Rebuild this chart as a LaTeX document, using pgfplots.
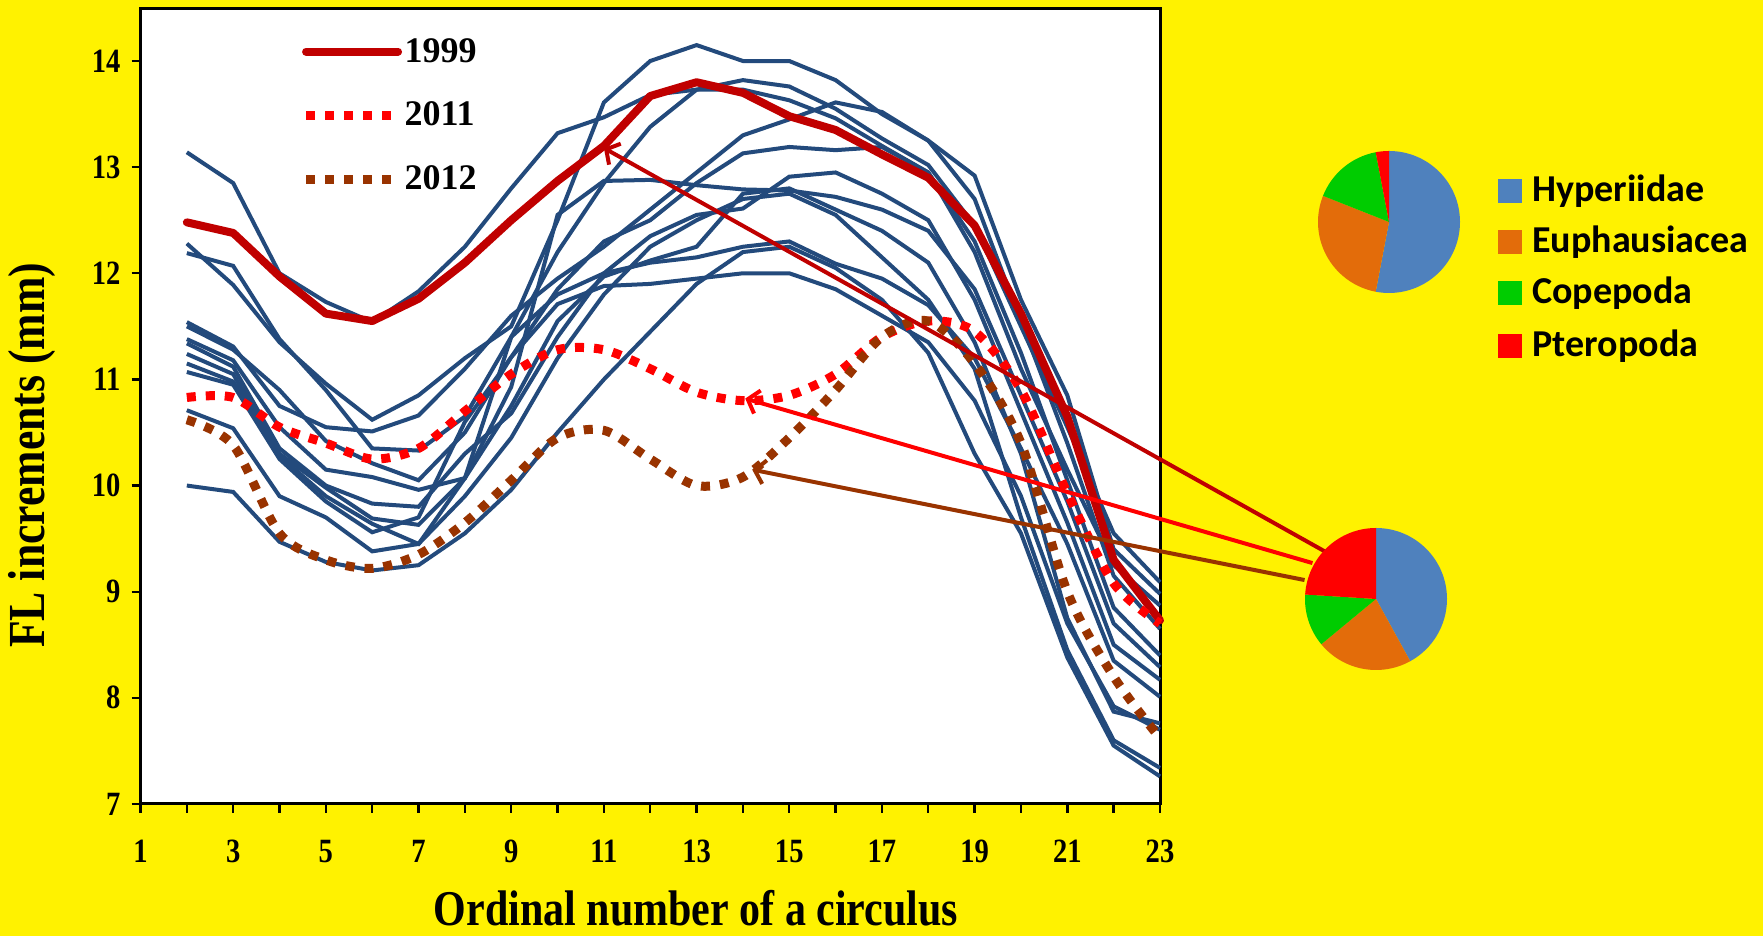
\documentclass[border=0pt]{standalone}
\usepackage{pgfplots}
\pgfplotsset{compat=1.18}
\usepackage{pgfplotstable}
\usepackage{fontspec}
\setmainfont{Liberation Serif}
\newfontfamily\condser{Liberation Serif}[FakeStretch=0.84]
\newfontfamily\calib{Carlito}
\usetikzlibrary{arrows.meta}
\definecolor{lineblue}{RGB}{35,74,124}
\definecolor{darkred}{RGB}{192,0,0}
\definecolor{brownish}{RGB}{153,51,0}
\definecolor{pieblue}{RGB}{79,129,189}
\definecolor{pieorange}{RGB}{227,108,10}
\definecolor{piegreen}{RGB}{0,204,0}
\definecolor{piered}{RGB}{255,0,0}

\pgfplotstableread{
x  b1    b2    b3    b4    b5    b6    b7    b8    b9    b10   b11   b12   r99   r11   r12
2  13.14 12.28 12.19 11.54 11.50 11.38 11.34 11.24 11.15 11.07 10.71 10.00 12.48 10.83 10.62
3  12.85 11.89 12.07 11.31 11.28 11.18 11.12 11.05 10.98 10.95 10.54 9.94  12.38 10.83 10.38
4  12.00 11.35 11.38 10.75 10.90 10.55 10.35 10.30 10.28 10.25 9.90  9.47  11.97 10.55 9.55
5  11.73 10.96 10.90 10.55 10.42 10.15 10.00 9.98  9.90  9.85  9.70  9.28  11.62 10.40 9.30
6  11.54 10.62 10.35 10.51 10.21 10.08 9.83  9.69  9.64  9.56  9.38  9.20  11.55 10.25 9.22
7  11.83 10.85 10.33 10.66 10.05 9.96  9.80  9.63  9.45  9.70  9.45  9.25  11.76 10.35 9.35
8  12.25 11.20 10.65 11.10 10.50 10.07 10.30 10.07 10.07 10.60 9.90  9.55  12.10 10.70 9.65
9  12.80 11.50 11.40 11.60 11.21 10.93 10.68 11.40 10.75 11.21 10.45 9.96  12.50 11.05 10.05
10 13.32 12.50 12.20 11.95 11.85 12.55 11.40 11.80 11.55 11.71 11.20 10.50 12.87 11.28 10.45
11 13.47 13.61 12.85 12.25 12.30 12.87 12.00 12.00 11.97 11.88 11.80 11.00 13.20 11.28 10.52
12 13.68 14.00 13.38 12.60 12.50 12.88 12.35 12.10 12.12 11.90 12.25 11.45 13.67 11.10 10.25
13 13.73 14.15 13.73 12.95 12.85 12.83 12.55 12.15 12.25 11.95 12.50 11.90 13.80 10.88 10.00
14 13.82 14.00 13.73 13.30 13.13 12.79 12.61 12.25 12.75 12.00 12.70 12.20 13.70 10.80 10.08
15 13.76 14.00 13.63 13.45 13.19 12.78 12.91 12.30 12.80 12.00 12.75 12.25 13.48 10.85 10.45
16 13.55 13.82 13.46 13.61 13.16 12.72 12.95 12.09 12.60 11.85 12.55 12.05 13.35 11.05 10.90
17 13.27 13.50 13.20 13.52 13.19 12.60 12.75 11.95 12.40 11.60 12.15 11.75 13.12 11.40 11.40
18 13.02 13.25 12.95 13.25 12.95 12.40 12.50 11.70 12.10 11.35 11.75 11.25 12.90 11.55 11.55
19 12.45 12.92 12.20 12.70 12.30 11.85 11.75 11.20 11.35 10.80 11.10 10.30 12.45 11.45 11.15
20 11.50 11.75 11.10 11.55 11.25 10.85 10.70 10.35 10.30 9.90  9.70  9.55  11.62 10.90 10.40
21 10.55 10.85 10.15 10.40 10.05 9.85  9.65  9.45  8.75  8.70  8.45  8.38  10.65 9.93  9.00
22 9.55  9.40  9.25  9.15  8.85  8.70  8.50  8.35  7.87  7.92  7.60  7.55  9.30  9.08  8.20
23 9.09  8.98  8.87  8.65  8.40  8.29  8.17  8.01  7.76  7.70  7.34  7.26  8.73  8.70  7.62
}\data

\begin{document}
\begin{tikzpicture}
\useasboundingbox (0,0) rectangle (881.5pt,468pt);
\fill[yellow] (0,0) rectangle (881.5pt,468pt);
\begin{axis}[
  at={(70.25pt,66pt)}, anchor=south west,
  scale only axis, width=509.75pt, height=397.5pt,
  xmin=1, xmax=23, ymin=7, ymax=14.49,
  clip=false,
  axis background/.style={fill=white},
  axis line style={line width=1.5pt, black},
  tick pos=left, tick align=outside,
  major tick length=4.5pt,
  every tick/.style={line width=1.2pt, black},
  xtick={1,...,23},
  xticklabels={1,,3,,5,,7,,9,,11,,13,,15,,17,,19,,21,,23},
  ytick={7,...,14},
  /pgf/number format/assume math mode=true,
  ticklabel style={font=\condser\bfseries\fontsize{17}{20}\selectfont},
  xticklabel style={yshift=-10pt},
  yticklabel style={xshift=-2pt},
  xlabel={Ordinal number of a circulus},
  xlabel style={at={(axis description cs:0.5449,-0.1315)}, anchor=center, inner sep=0pt, font=\condser\bfseries\fontsize{25}{29}\selectfont},
  ylabel={FL increments (mm)},
  ylabel style={at={(axis description cs:-0.1069,0.4385)}, anchor=center, rotate=0, font=\condser\bfseries\fontsize{26}{30}\selectfont},
  legend style={at={(0.1517,0.866)}, anchor=west, draw=none, fill=none,
    font=\bfseries\fontsize{18}{21}\selectfont, row sep=16.5pt,
    nodes={inner sep=1pt}},
  legend cell align=left,
  legend image code/.code={\draw[#1] (0pt,0pt) -- (46pt,0pt);},
]
\pgfplotsinvokeforeach{1,...,12}{
  \addplot[lineblue, line width=2pt, forget plot] table[x=x,y=b#1]{\data};
}
\addplot[darkred, line width=4pt, line cap=round, line join=round] table[x=x,y=r99]{\data};
\addlegendentry{1999}
\addplot[piered, line width=4.5pt, dash pattern=on 4.5pt off 5pt, smooth] table[x=x,y=r11]{\data};
\addlegendentry{2011}
\addplot[brownish, line width=4.5pt, dash pattern=on 4.5pt off 5pt, smooth] table[x=x,y=r12]{\data};
\addlegendentry{2012}

\draw[darkred, line width=2pt, -{Straight Barb[length=5pt,width=12pt,line width=2pt]}] (axis cs:26.62,9.364) -- (axis cs:11,13.18);
\draw[piered, line width=2pt, -{Straight Barb[length=5pt,width=12pt,line width=2pt]}] (axis cs:26.29,9.27) -- (axis cs:14.05,10.82);
\draw[brownish, line width=2pt, -{Straight Barb[length=5pt,width=12pt,line width=2pt]}] (axis cs:26.12,9.11) -- (axis cs:14.2,10.15);
\end{axis}

% top pie: 53, 28, 16, 3 percent (clockwise from 12 o'clock)
\begin{scope}[shift={(694.5pt,357pt)}]
  \fill[pieblue]   (0,0) -- (90:35.5pt) arc[start angle=90, end angle=-100.8, radius=35.5pt] -- cycle;
  \fill[pieorange] (0,0) -- (-100.8:35.5pt) arc[start angle=-100.8, end angle=-201.6, radius=35.5pt] -- cycle;
  \fill[piegreen]  (0,0) -- (-201.6:35.5pt) arc[start angle=-201.6, end angle=-259.2, radius=35.5pt] -- cycle;
  \fill[piered]    (0,0) -- (-259.2:35.5pt) arc[start angle=-259.2, end angle=-270, radius=35.5pt] -- cycle;
\end{scope}
% bottom pie: 42, 22, 12, 24 percent
\begin{scope}[shift={(688pt,168.5pt)}]
  \fill[pieblue]   (0,0) -- (90:35.5pt) arc[start angle=90, end angle=-61.2, radius=35.5pt] -- cycle;
  \fill[pieorange] (0,0) -- (-61.2:35.5pt) arc[start angle=-61.2, end angle=-140.4, radius=35.5pt] -- cycle;
  \fill[piegreen]  (0,0) -- (-140.4:35.5pt) arc[start angle=-140.4, end angle=-183.6, radius=35.5pt] -- cycle;
  \fill[piered]    (0,0) -- (-183.6:35.5pt) arc[start angle=-183.6, end angle=-270, radius=35.5pt] -- cycle;
\end{scope}

% pie legend
\foreach \yy/\col/\txt in {372.5/pieblue/Hyperiidae,347/pieorange/Euphausiacea,321.5/piegreen/Copepoda,295/piered/Pteropoda}{
  \fill[\col] (749pt,\yy pt-6pt) rectangle (761pt,\yy pt+6pt);
  \node[anchor=west, inner sep=0pt, font=\calib\bfseries\fontsize{19}{22}\selectfont] at (766pt,\yy pt) {\txt};
}
\end{tikzpicture}
\end{document}
